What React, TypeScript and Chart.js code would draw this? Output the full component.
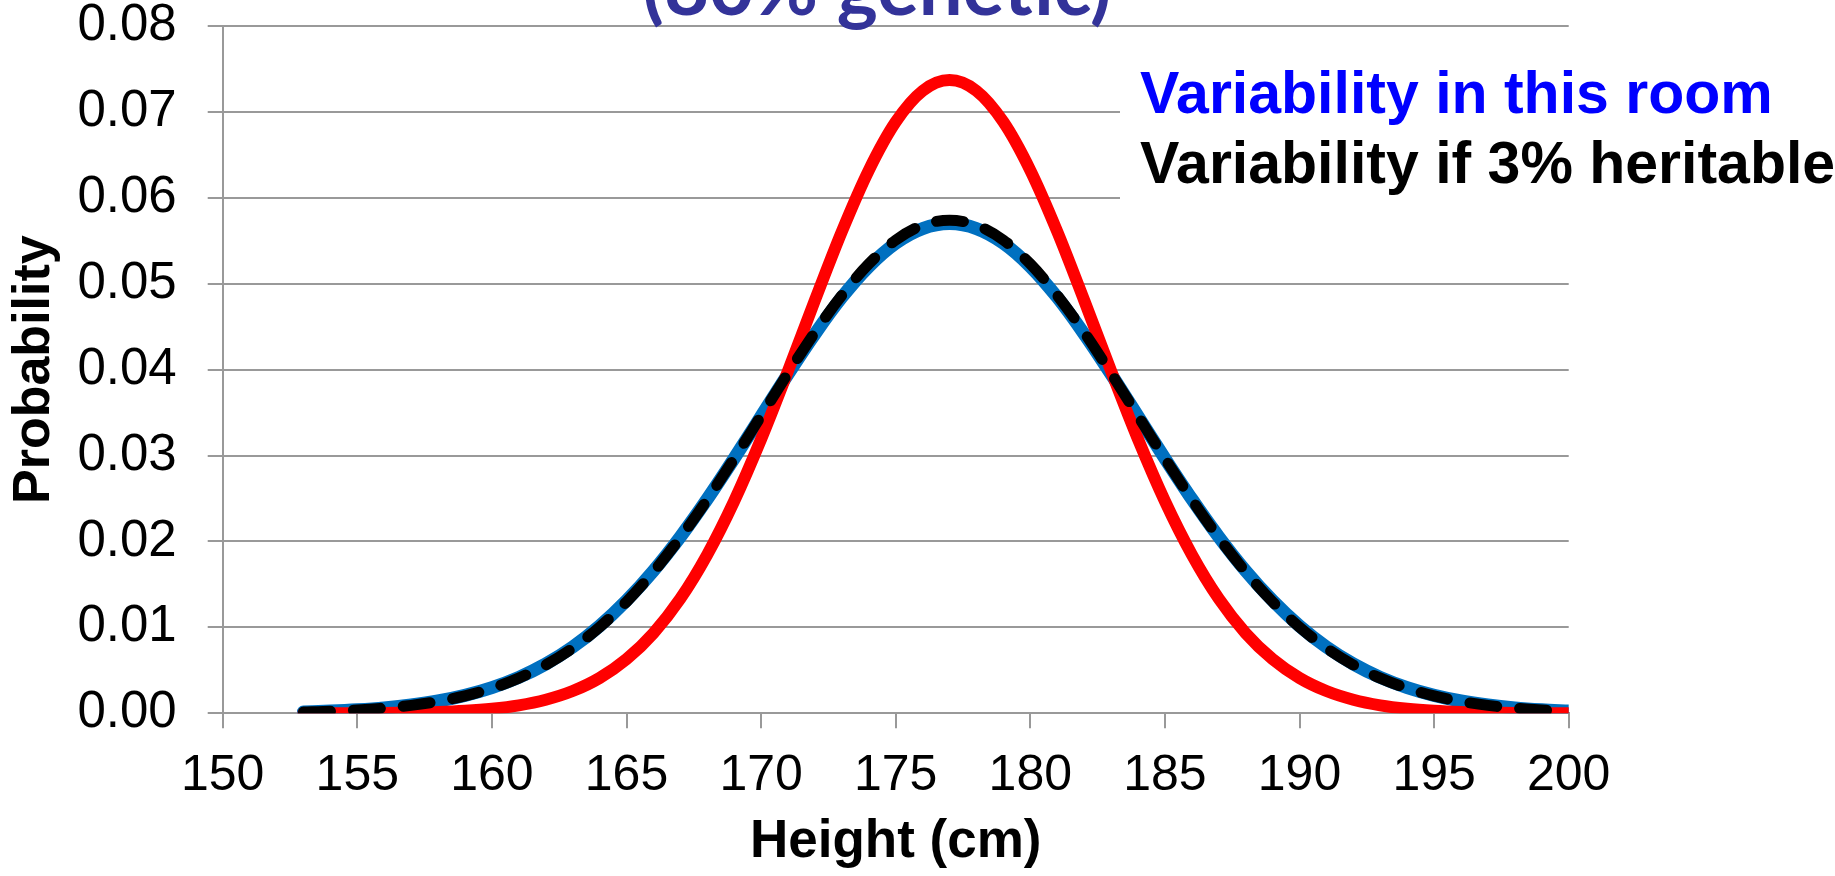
import React, { useEffect, useRef } from "react";
import { Chart, registerables } from "chart.js";

Chart.register(...registerables);

// Heights (cm)
const heights = [
  153, 154, 155, 156, 157, 158, 159, 160, 161, 162, 163, 164, 165, 166, 167, 168,
  169, 170, 171, 172, 173, 174, 175, 176, 177, 178, 179, 180, 181, 182, 183, 184,
  185, 186, 187, 188, 189, 190, 191, 192, 193, 194, 195, 196, 197, 198, 199, 200,
];

// Red curve: population height distribution (80% genetic)
const populationCurve = [
  0.0, 0.00001, 0.00002, 0.00004, 0.00008, 0.00015, 0.00029, 0.00053, 0.00093, 0.00158,
  0.00259, 0.00411, 0.0063, 0.00933, 0.01335, 0.01848, 0.0247, 0.03191, 0.03985, 0.04808,
  0.05608, 0.0632, 0.06883, 0.07245, 0.0737, 0.07245, 0.06883, 0.0632, 0.05608, 0.04808,
  0.03985, 0.03191, 0.0247, 0.01848, 0.01335, 0.00933, 0.0063, 0.00411, 0.00259, 0.00158,
  0.00093, 0.00053, 0.00029, 0.00015, 0.00008, 0.00004, 0.00002, 0.00001,
];

// Blue curve: variability in this room
const roomCurve = [
  0.00016, 0.00026, 0.00041, 0.00063, 0.00096, 0.00143, 0.00209, 0.00299, 0.00418, 0.00574,
  0.00771, 0.01016, 0.01312, 0.01658, 0.02054, 0.02494, 0.02967, 0.03457, 0.03948, 0.04416,
  0.04842, 0.052, 0.05472, 0.05642, 0.057, 0.05642, 0.05472, 0.052, 0.04842, 0.04416,
  0.03948, 0.03457, 0.02967, 0.02494, 0.02054, 0.01658, 0.01312, 0.01016, 0.00771, 0.00574,
  0.00418, 0.00299, 0.00209, 0.00143, 0.00096, 0.00063, 0.00041, 0.00026,
];

// Black dashed curve: variability if 3% heritable
const heritableCurve = [
  0.00015, 0.00024, 0.00039, 0.00061, 0.00092, 0.00138, 0.00202, 0.00291, 0.00409, 0.00563,
  0.00759, 0.01003, 0.01298, 0.01646, 0.02045, 0.02488, 0.02965, 0.03462, 0.03958, 0.04435,
  0.04866, 0.05231, 0.05508, 0.05681, 0.0574, 0.05681, 0.05508, 0.05231, 0.04866, 0.04435,
  0.03958, 0.03462, 0.02965, 0.02488, 0.02045, 0.01646, 0.01298, 0.01003, 0.00759, 0.00563,
  0.00409, 0.00291, 0.00202, 0.00138, 0.00092, 0.00061, 0.00039, 0.00024,
];

const xTickMin = 150;
const xTickMax = 200;
const xTickStep = 5;
const yTickMin = 0;
const yTickMax = 0.08;
const yTickStep = 0.01;

const titleText = "(80% genetic)";
const xAxisTitle = "Height (cm)";
const yAxisTitle = "Probability";
const legendLabels = ["Variability in this room", "Variability if 3% heritable"];
const legendColors = ["#0000FF", "#000000"];

const W = 1835;
const H = 876;
const SANS = "'Liberation Sans', Arial, sans-serif";

const overlayPlugin = {
  id: "overlayText",
  beforeDatasetsDraw(chart: any) {
    const ctx = chart.ctx;
    ctx.save();
    ctx.fillStyle = "#ffffff";
    ctx.fillRect(1120, 44, chart.width - 1120, 196);
    ctx.font = `bold 59px ${SANS}`;
    ctx.textAlign = "left";
    ctx.textBaseline = "alphabetic";
    legendLabels.forEach((t, i) => {
      ctx.fillStyle = legendColors[i];
      ctx.fillText(t, 1140, 112.5 + i * 70.5);
    });
    ctx.restore();
  },
  afterDraw(chart: any) {
    const ctx = chart.ctx;
    ctx.save();
    ctx.font = "bold 100px Lato, 'Open Sans', sans-serif";
    const w = ctx.measureText(titleText).width || 1;
    const size = (100 * 469) / w;
    ctx.font = `bold ${size}px Lato, 'Open Sans', sans-serif`;
    ctx.fillStyle = "#333399";
    ctx.textAlign = "center";
    ctx.textBaseline = "alphabetic";
    ctx.fillText(titleText, 877, 15);
    ctx.restore();
  },
};

export default function App() {
  const canvasRef = useRef<HTMLCanvasElement | null>(null);

  useEffect(() => {
    if (!canvasRef.current) return;
    const toPoints = (ys: number[]) => heights.map((x, i) => ({ x, y: ys[i] }));
    const chart = new Chart(canvasRef.current, {
      type: "line",
      data: {
        datasets: [
          {
            label: legendLabels[0],
            data: toPoints(roomCurve),
            borderColor: "#0070C0",
            borderWidth: 13,
            pointRadius: 0,
            cubicInterpolationMode: "monotone",
            borderCapStyle: "round",
            borderJoinStyle: "round",
            order: 3,
          },
          {
            label: "Population (80% genetic)",
            data: toPoints(populationCurve),
            borderColor: "#FF0000",
            borderWidth: 12,
            pointRadius: 0,
            cubicInterpolationMode: "monotone",
            borderCapStyle: "round",
            borderJoinStyle: "round",
            order: 2,
          },
          {
            label: legendLabels[1],
            data: toPoints(heritableCurve),
            borderColor: "#000000",
            borderWidth: 11,
            borderDash: [27, 23],
            pointRadius: 0,
            cubicInterpolationMode: "monotone",
            borderCapStyle: "round",
            borderJoinStyle: "round",
            order: 1,
          },
        ],
      },
      options: {
        responsive: false,
        animation: false,
        events: [],
        layout: { padding: { left: 0, top: 26, right: W - 1568.7, bottom: 0 } },
        plugins: {
          legend: { display: false },
          tooltip: { enabled: false },
          title: { display: false },
        },
        scales: {
          x: {
            type: "linear",
            min: xTickMin,
            max: xTickMax,
            afterFit: (s: any) => {
              s.height = H - 713.3;
            },
            ticks: {
              stepSize: xTickStep,
              color: "#000",
              padding: 18,
              maxRotation: 0,
              font: { family: SANS, size: 50 },
            },
            grid: {
              drawOnChartArea: false,
              drawTicks: true,
              tickLength: 15,
              color: "#999999",
              lineWidth: 2,
            },
            border: { display: true, color: "#999999", width: 2 },
            title: {
              display: true,
              text: xAxisTitle,
              color: "#000",
              font: { family: SANS, size: 53, weight: "bold" },
              padding: { top: 0, bottom: 2 },
            },
          },
          y: {
            type: "linear",
            min: yTickMin,
            max: yTickMax,
            afterFit: (s: any) => {
              s.width = 222.7;
              s.paddingTop = 0;
              s.paddingBottom = 0;
            },
            ticks: {
              stepSize: yTickStep,
              color: "#000",
              padding: 31,
              font: { family: SANS, size: 51, lineHeight: 1 },
              callback: (v: any) => Number(v).toFixed(2),
            },
            grid: {
              drawOnChartArea: true,
              drawTicks: true,
              tickLength: 15,
              color: "#999999",
              lineWidth: 2,
            },
            border: { display: true, color: "#999999", width: 2 },
            title: {
              display: true,
              text: yAxisTitle,
              color: "#000",
              font: { family: SANS, size: 52, weight: "bold" },
              padding: { top: 3.5, bottom: 0 },
            },
          },
        },
      },
      plugins: [overlayPlugin],
    });
    return () => chart.destroy();
  }, []);

  return (
    <div
      style={{
        position: "fixed",
        left: 0,
        top: 0,
        width: W,
        height: H,
        overflow: "hidden",
        background: "#fff",
      }}
    >
      <canvas ref={canvasRef} width={W} height={H} style={{ display: "block" }} />
    </div>
  );
}
